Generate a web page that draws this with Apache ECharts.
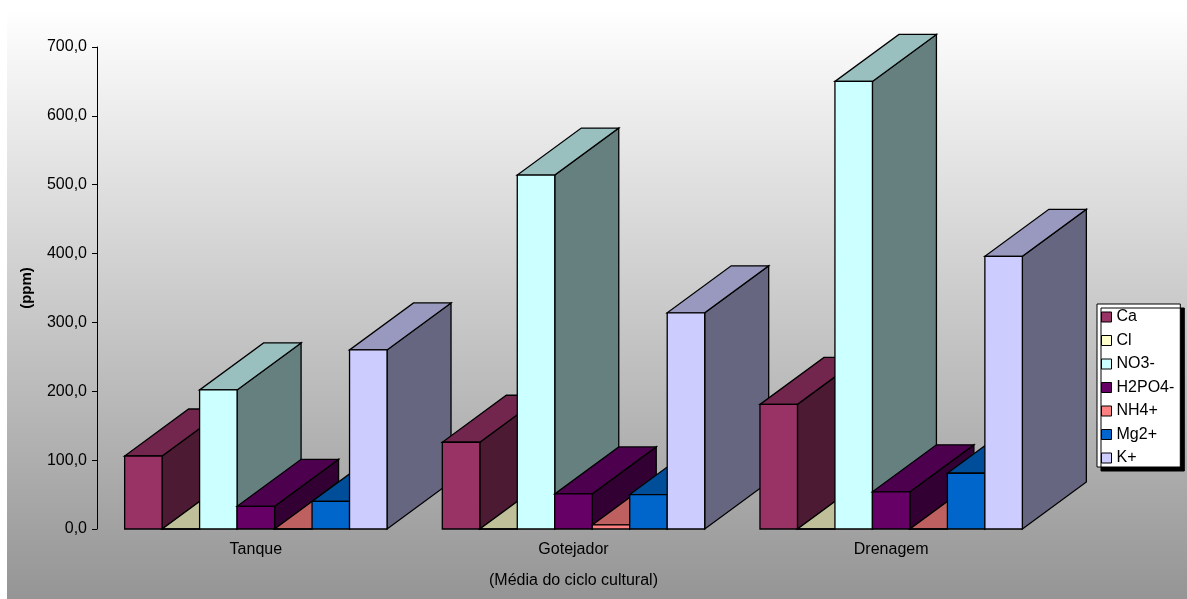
<!DOCTYPE html>
<html>
<head>
<meta charset="utf-8">
<script src="https://cdn.jsdelivr.net/npm/echarts@6/dist/echarts.min.js"></script>
<style>html,body{margin:0;padding:0;background:#fff;}#c{width:1187px;height:599px;}</style>
</head>
<body>
<div id="c"></div>
<script>
// ---- data ----
const categories = ['Tanque', 'Gotejador', 'Drenagem'];
const seriesNames = ['Ca', 'Cl', 'NO3-', 'H2PO4-', 'NH4+', 'Mg2+', 'K+'];
const caValues = [106, 126, 181];
const clValues = [0, 0, 0];
const no3Values = [202, 514, 650];
const h2po4Values = [33, 51, 54];
const nh4Values = [0, 6, 0];
const mgValues = [40, 50, 81];
const kValues = [260, 314, 396];
const yTicks = [0, 100, 200, 300, 400, 500, 600, 700];

// ---- styles ----
const frontColors = ['#993366', '#FFFFCC', '#CCFFFF', '#660066', '#FF8080', '#0066CC', '#CCCCFF'];
const topColors   = ['#73264D', '#BFBF99', '#99BFBF', '#4D004D', '#BF6060', '#004D99', '#9999BF'];
const sideColors  = ['#4D1A33', '#808066', '#668080', '#330033', '#804040', '#003366', '#666680'];
const allValues = [caValues, clValues, no3Values, h2po4Values, nh4Values, mgValues, kValues];
const BAR_FRAC = 0.118;
const DEPTH_X = 64, DEPTH_Y = 47;
const FONT = '"Liberation Sans", Arial, sans-serif';

function makeRender(si) {
  return function (params, api) {
    const ci = api.value(0);
    const v = api.value(1);
    const base = api.coord([ci, 0]);
    const top = api.coord([ci, v]);
    const band = api.size([1, 0])[0];
    const bw = band * BAR_FRAC;
    const x0 = base[0] - 3.5 * bw + si * bw;
    const x1 = x0 + bw;
    const y0 = base[1];
    const y1 = top[1];
    const z = ci * 100 + si * 4;
    const stroke = { stroke: '#000', lineWidth: 1.3, lineJoin: 'miter' };
    return {
      type: 'group',
      children: [
        {
          type: 'polygon', z2: z,
          shape: { points: [[x1, y1], [x1, y0], [x1 + DEPTH_X, y0 - DEPTH_Y], [x1 + DEPTH_X, y1 - DEPTH_Y]] },
          style: Object.assign({ fill: sideColors[si] }, stroke)
        },
        {
          type: 'polygon', z2: z + 1,
          shape: { points: [[x0, y1], [x1, y1], [x1 + DEPTH_X, y1 - DEPTH_Y], [x0 + DEPTH_X, y1 - DEPTH_Y]] },
          style: Object.assign({ fill: topColors[si] }, stroke)
        },
        {
          type: 'rect', z2: z + 2,
          shape: { x: x0, y: y1, width: bw, height: y0 - y1 },
          style: Object.assign({ fill: frontColors[si] }, stroke)
        }
      ]
    };
  };
}

const series = seriesNames.map(function (name, si) {
  return {
    type: 'custom',
    name: name,
    renderItem: makeRender(si),
    itemStyle: { color: frontColors[si], borderColor: '#000', borderWidth: 1 },
    encode: { x: 0, y: 1 },
    data: allValues[si].map(function (v, ci) { return [ci, v]; }),
    clip: false
  };
});

const chart = echarts.init(document.getElementById('c'), null, { renderer: 'canvas' });
chart.setOption({
  animation: false,
  backgroundColor: '#ffffff',
  textStyle: { fontFamily: FONT },
  graphic: {
    elements: [{
      type: 'rect', z: -10, silent: true,
      shape: { x: 7, y: 8, width: 1180, height: 591 },
      style: {
        fill: new echarts.graphic.LinearGradient(0, 0, 0, 1, [
          { offset: 0, color: '#ffffff' },
          { offset: 1, color: '#959595' }
        ])
      }
    }]
  },
  grid: { left: 97, right: 137, top: 47, bottom: 70, containLabel: false },
  legend: {
    orient: 'vertical',
    left: 1097, top: 304,
    padding: [5, 6, 1, 4],
    itemGap: 7.5,
    itemWidth: 10, itemHeight: 10,
    icon: 'rect',
    backgroundColor: '#ffffff',
    borderColor: '#000', borderWidth: 1,
    shadowColor: '#000', shadowOffsetX: 4, shadowOffsetY: 4, shadowBlur: 0.01,
    itemStyle: { borderColor: '#000', borderWidth: 1 },
    textStyle: { fontFamily: FONT, fontSize: 16, lineHeight: 16, color: '#000' },
    data: seriesNames
  },
  xAxis: {
    type: 'category',
    data: categories,
    axisLine: { show: false },
    axisTick: { show: false },
    axisLabel: { margin: 13, fontSize: 16, color: '#000', fontFamily: FONT },
    name: '(Média do ciclo cultural)',
    nameLocation: 'middle',
    nameGap: 44,
    nameTextStyle: { fontSize: 16, color: '#000', fontFamily: FONT }
  },
  yAxis: {
    type: 'value',
    min: yTicks[0], max: yTicks[yTicks.length - 1], interval: yTicks[1] - yTicks[0],
    axisLine: { show: true, lineStyle: { color: '#000', width: 1 } },
    axisTick: { show: true, length: 5, lineStyle: { color: '#000' } },
    splitLine: { show: false },
    axisLabel: {
      margin: 10, fontSize: 16, color: '#000', fontFamily: FONT,
      formatter: function (v) { return v.toFixed(1).replace('.', ','); }
    },
    name: '(ppm)',
    nameLocation: 'middle',
    nameGap: 63,
    nameTextStyle: { fontSize: 15, fontWeight: 'bold', color: '#000', fontFamily: FONT }
  },
  tooltip: { show: false },
  series: series
});
</script>
</body>
</html>
